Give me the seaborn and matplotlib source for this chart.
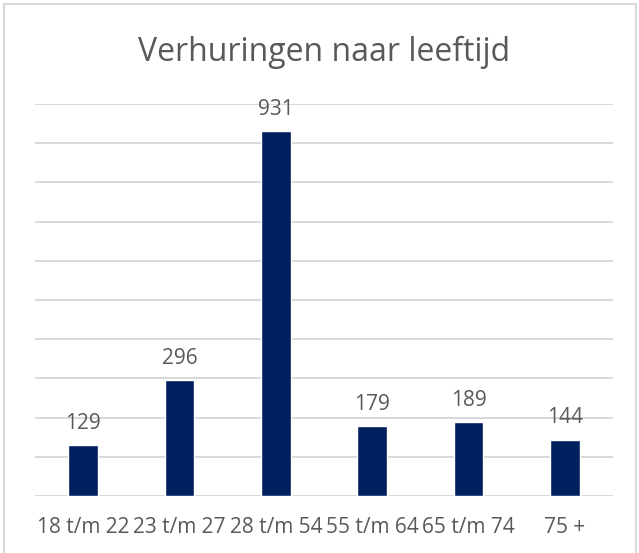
import matplotlib
matplotlib.use("Agg")
import matplotlib.pyplot as plt
import pandas as pd
import seaborn as sns
from matplotlib.patches import Rectangle

leeftijden = ["18 t/m 22", "23 t/m 27", "28 t/m 54", "55 t/m 64", "65 t/m 74", "75 +"]
verhuringen = [129, 296, 931, 179, 189, 144]

grijs_tekst = "#595959"
grijs_lijn = "#d9d9d9"
navy = "#002060"

sns.set_style("white")
plt.rcParams['font.family'] = ['Open Sans', 'DejaVu Sans']

df = pd.DataFrame({"leeftijd": leeftijden, "verhuringen": verhuringen})

fig = plt.figure(figsize=(6.39, 5.53), dpi=100)
ax = fig.add_axes([35 / 639, 57 / 553, 578 / 639, 392 / 553])

sns.barplot(data=df, x="leeftijd", y="verhuringen", color=navy,
            width=0.31, saturation=1, ax=ax)

ax.set_ylim(0, 1000)
ax.set_xlim(-0.5, len(leeftijden) - 0.5)
ax.set_yticks(range(0, 1001, 100))
ax.set_yticklabels([])
ax.yaxis.grid(True, color=grijs_lijn, linewidth=1.4)
ax.set_axisbelow(True)
ax.tick_params(axis="both", length=0)
ax.tick_params(axis="x", labelsize=15, labelcolor=grijs_tekst, pad=15)
for s in ax.spines.values():
    s.set_visible(False)
ax.set_xlabel("")
ax.set_ylabel("")

ax.bar_label(ax.containers[0], labels=[str(v) for v in verhuringen],
             padding=8, fontsize=15, color=grijs_tekst)

fig.text(324 / 639, 1 - 52 / 553, "Verhuringen naar leeftijd",
         ha="center", va="center", fontsize=23, color=grijs_tekst)

fig.patches.append(Rectangle((4 / 639, -0.05), 632 / 639, 1.05 - 4 / 553,
                             transform=fig.transFigure, fill=False,
                             edgecolor=grijs_lijn, linewidth=1.5))

fig.savefig("out.png", dpi=100)
